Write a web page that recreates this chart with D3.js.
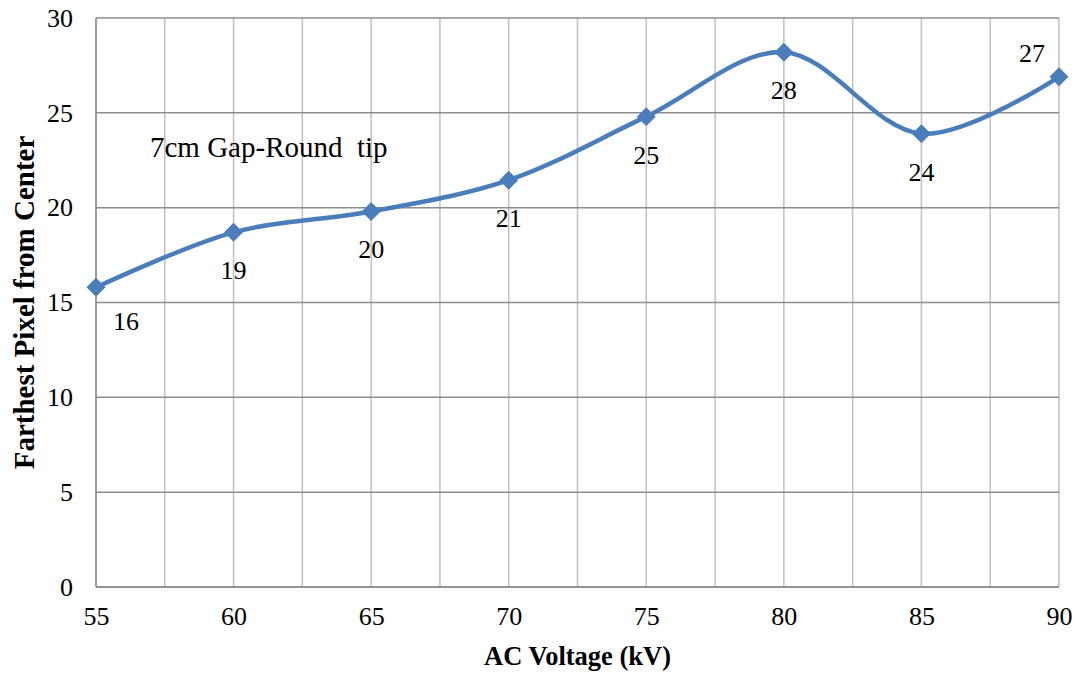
<!DOCTYPE html>
<html>
<head>
<meta charset="utf-8">
<script src="https://cdn.jsdelivr.net/npm/d3@7"></script>
<style>
  html, body { margin: 0; padding: 0; background: #fff; }
  svg { display: block; font-family: "Liberation Serif", "Times New Roman", serif; }
  svg text { font-family: "Liberation Serif", "Times New Roman", serif; }
</style>
</head>
<body>
<svg id="chart" width="1083" height="677"></svg>
<script>
// AC voltage (kV) against farthest discharge pixel from the centre
const voltages = [55, 60, 65, 70, 75, 80, 85, 90];
const farthestPixel = [15.8, 18.7, 19.8, 21.45, 24.8, 28.2, 23.9, 26.9];
const xTicks = [55, 60, 65, 70, 75, 80, 85, 90];
const yTicks = [0, 5, 10, 15, 20, 25, 30];
const xTitle = "AC Voltage (kV)";
const yTitle = "Farthest Pixel from Center";
const note = "7cm Gap-Round  tip";

const data = voltages.map((v, i) => ({ v, p: farthestPixel[i] }));

const svg = d3.select("#chart");
const margin = { left: 96, top: 18, right: 1083 - 1059, bottom: 677 - 587 };
const W = 1083, H = 677;
const serif = "Liberation Serif, Times New Roman, serif";

const x = d3.scaleLinear().domain([55, 90]).range([margin.left, W - margin.right]);
const y = d3.scaleLinear().domain([0, 30]).range([H - margin.bottom, margin.top]);

// vertical gridlines every 2.5 kV
const xGrid = d3.range(55, 90.01, 2.5);
svg.append("g").selectAll("line").data(xGrid).join("line")
  .attr("x1", d => x(d)).attr("x2", d => x(d))
  .attr("y1", y(0)).attr("y2", y(30))
  .attr("stroke", "#c0c0c0").attr("stroke-width", 1.5);

// horizontal gridlines on major ticks
svg.append("g").selectAll("line").data(yTicks).join("line")
  .attr("x1", x(55)).attr("x2", x(90))
  .attr("y1", d => y(d)).attr("y2", d => y(d))
  .attr("stroke", "#8c8c8c").attr("stroke-width", 1.5);

// axis lines
svg.append("line").attr("x1", x(55)).attr("x2", x(55)).attr("y1", y(0)).attr("y2", y(30))
  .attr("stroke", "#8c8c8c").attr("stroke-width", 1.5);
svg.append("line").attr("x1", x(55)).attr("x2", x(90)).attr("y1", y(0)).attr("y2", y(0))
  .attr("stroke", "#8c8c8c").attr("stroke-width", 1.5);

// tick labels
const yAxis = d3.axisLeft(y).tickValues(yTicks).tickSize(0).tickPadding(23);
svg.append("g").attr("transform", `translate(${x(55)},0)`).call(yAxis)
  .attr("font-family", serif)
  .call(g => g.select(".domain").remove())
  .call(g => g.selectAll("text").attr("font-size", 26).attr("fill", "#000"));

const xAxis = d3.axisBottom(x).tickValues(xTicks).tickSize(0).tickPadding(20);
svg.append("g").attr("transform", `translate(0,${y(0)})`).call(xAxis)
  .attr("font-family", serif)
  .call(g => g.select(".domain").remove())
  .call(g => g.selectAll("text").attr("font-size", 26).attr("fill", "#000"));

// axis titles
svg.append("text").attr("x", (x(55) + x(90)) / 2).attr("y", 665)
  .attr("text-anchor", "middle").attr("font-size", 26.5).attr("font-weight", "bold")
  .text(xTitle);
svg.append("text")
  .attr("transform", `translate(34,${(y(0) + y(30)) / 2}) rotate(-90)`)
  .attr("text-anchor", "middle").attr("font-size", 29).attr("font-weight", "bold")
  .text(yTitle);

// smoothed series line
const line = d3.line().x(d => x(d.v)).y(d => y(d.p)).curve(d3.curveCatmullRom.alpha(0.5));
svg.append("path").datum(data).attr("d", line)
  .attr("fill", "none").attr("stroke", "#4a7ebb").attr("stroke-width", 4.5)
  .attr("stroke-linejoin", "round");

// diamond markers
const diamond = d3.symbol().type(d3.symbolDiamond2).size(230);
svg.append("g").selectAll("path").data(data).join("path")
  .attr("transform", d => `translate(${x(d.v)},${y(d.p)})`)
  .attr("d", diamond).attr("fill", "#4a7ebb");

// value labels (rounded), below each point; edge points nudged clear of the frame
const last = data.length - 1;
svg.append("g").selectAll("text").data(data).join("text")
  .attr("x", (d, i) => x(d.v) + (i === 0 ? 30 : i === last ? -27 : 0))
  .attr("y", (d, i) => y(d.p) + (i === last ? -15 : i === 0 ? 43 : 47))
  .attr("text-anchor", "middle").attr("font-size", 26).attr("fill", "#000")
  .text(d => d3.format(".0f")(d.p));

// annotation
svg.append("text").attr("x", 150).attr("y", 157)
  .attr("font-size", 29).attr("fill", "#000")
  .attr("xml:space", "preserve").style("white-space", "pre")
  .text(note);
</script>
</body>
</html>
